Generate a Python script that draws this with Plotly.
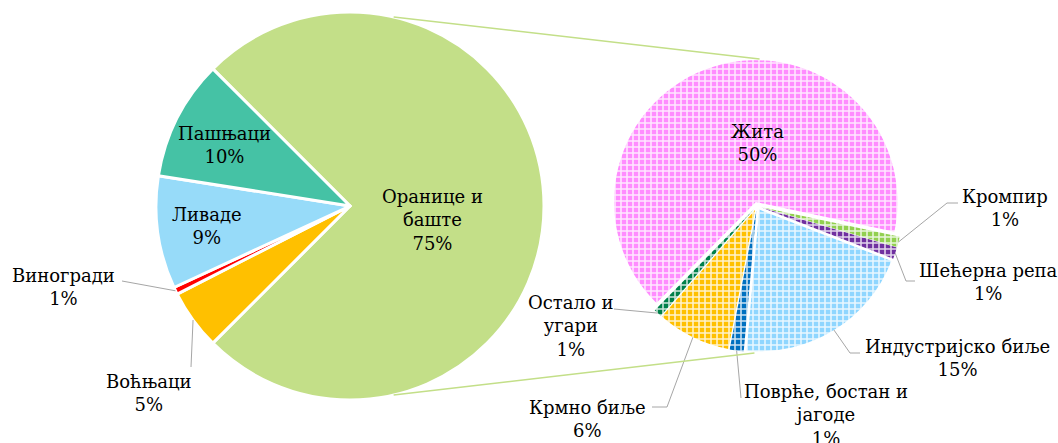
import math
import plotly.graph_objects as go

W, H = 1058, 443

# ---------------- data ----------------
main_labels = ["Оранице и баште", "Воћњаци", "Виногради", "Ливаде", "Пашњаци"]
main_values = [75, 5, 0.6, 9.4, 10]
main_text = ["Оранице и<br>баште", "Воћњаци", "Виногради", "Ливаде", "Пашњаци"]
main_pct = ["75%", "5%", "1%", "9%", "10%"]
main_colors = ["#C3DF88", "#FFC000", "#FF0000", "#97DBF9", "#45C2A5"]

sub_labels = ["Жита", "Кромпир", "Шећерна репа", "Индустријско биље",
              "Поврће, бостан и јагоде", "Крмно биље", "Остало и угари"]
sub_values = [49.5, 0.9, 1.0, 15.4, 1.2, 6.3, 0.7]
sub_text = ["Жита", "Кромпир", "Шећерна репа", "Индустријско биље",
            "Поврће, бостан и<br>јагоде", "Крмно биље", "Остало и<br>угари"]
sub_pct = ["50%", "1%", "1%", "15%", "1%", "6%", "1%"]
sub_colors = ["#FF8CFF", "#92D050", "#7030A0", "#8FD6FF", "#0070C0", "#FFC000", "#00804A"]

# ---------------- layout geometry (pixels) ----------------
LC, LR, L_ROT = (350, 206), 194, -45
RC, R_OUT, PULL, R_ROT = (757, 206), 146, 0.03, 224.5

FONT = "DejaVu Serif"
FS = 18
LEADER = "#A6A6A6"

def px(x, y):
    return x / W, 1 - y / H

def dom(c, half):
    return dict(x=[(c[0] - half) / W, (c[0] + half) / W],
                y=[1 - (c[1] + half) / H, 1 - (c[1] - half) / H])

def mid_angle(values, i, rot):
    tot = sum(values)
    start = rot + 360 * sum(values[:i]) / tot
    return start + 180 * values[i] / tot

def pt(c, r, ang):
    a = math.radians(ang)
    return c[0] + r * math.sin(a), c[1] - r * math.cos(a)

fig = go.Figure()
fig.add_trace(go.Pie(
    labels=main_labels, values=main_values, sort=False, direction="clockwise",
    rotation=L_ROT, domain=dom(LC, LR), textinfo="none", hoverinfo="label",
    marker=dict(colors=main_colors, line=dict(color="white", width=3)),
    showlegend=False,
))
fig.add_trace(go.Pie(
    labels=sub_labels, values=sub_values, sort=False, direction="clockwise",
    rotation=R_ROT, domain=dom(RC, R_OUT), textinfo="none", hoverinfo="label",
    pull=[PULL] * len(sub_values),
    marker=dict(colors=sub_colors, line=dict(color="white", width=0),
                pattern=dict(shape="+", fillmode="overlay", fgcolor="white",
                             fgopacity=0.8, size=6, solidity=0.45)),
    showlegend=False,
))

annotations = []
shapes = []

def add_label(text, cx, cy):
    x, y = px(cx, cy)
    annotations.append(dict(x=x, y=y, xref="paper", yref="paper", text=text,
                            showarrow=False, xanchor="center", yanchor="middle",
                            align="center", font=dict(family=FONT, size=FS, color="black")))

def add_leader(points):
    path = ""
    for k, (x, y) in enumerate(points):
        X, Y = px(x, y)
        path += ("M" if k == 0 else " L") + f" {X} {Y}"
    shapes.append(dict(type="path", path=path, xref="paper", yref="paper",
                       line=dict(color=LEADER, width=1)))

# main pie labels
main_pos = [(432, 220), (148, 393), (63, 287), (207, 226), (224, 145)]
main_leader = [None, [(191, 367)], [(122, 281)], None, None]
for i in range(len(main_values)):
    add_label(main_text[i] + "<br>" + main_pct[i], *main_pos[i])
    if main_leader[i]:
        edge = pt(LC, LR, mid_angle(main_values, i, L_ROT))
        add_leader(main_leader[i] + [edge])

# sub pie labels
sub_pos = [(757, 143), (1005, 208), (988, 282), (957, 358), (826, 415), (587, 419), (571, 326)]
sub_leader = [None, [(958, 203), (947, 203)], [(915, 281), (906, 281)],
              [(860, 353), (850, 353)], [(741, 398)], [(652, 407), (667, 407)], [(614, 309)]]
for i in range(len(sub_values)):
    add_label(sub_text[i] + "<br>" + sub_pct[i], *sub_pos[i])
    if sub_leader[i]:
        edge = pt(RC, R_OUT, mid_angle(sub_values, i, R_ROT))
        add_leader(sub_leader[i] + [edge])

# connector lines between the pies
for la, ra in [(13, 1), (167, 181)]:
    a = px(*pt(LC, LR, la))
    b = px(*pt(RC, R_OUT + 1, ra))
    shapes.append(dict(type="line", xref="paper", yref="paper",
                       x0=a[0], y0=a[1], x1=b[0], y1=b[1],
                       line=dict(color="#C3DF88", width=1.5)))

fig.update_layout(
    width=W, height=H, margin=dict(l=0, r=0, t=0, b=0),
    paper_bgcolor="white", plot_bgcolor="white",
    annotations=annotations, shapes=shapes,
)
fig.write_html("out.html", config={"displayModeBar": False},
               post_script="document.body.style.margin='0';document.body.style.overflow='hidden';")
